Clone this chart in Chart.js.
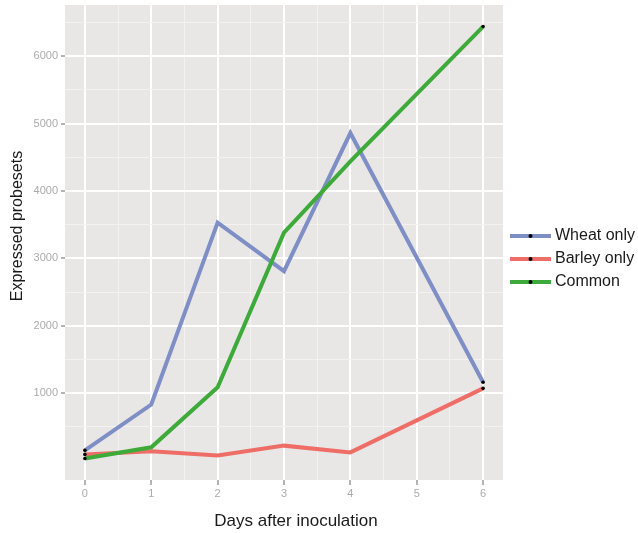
<!DOCTYPE html>
<html>
<head>
<meta charset="utf-8">
<script src="https://cdn.jsdelivr.net/npm/chart.js@4/dist/chart.umd.min.js"></script>
<style>
html,body{margin:0;padding:0;background:#fff;}
#wrap{width:638px;height:533px;}
</style>
</head>
<body>
<div id="wrap"><canvas id="c" width="638" height="533"></canvas></div>
<script>
const days = [0, 1, 2, 3, 4, 6];
const wheatOnly = [150, 830, 3530, 2810, 4860, 1160];
const barleyOnly = [90, 135, 75, 220, 120, 1070];
const common = [30, 195, 1085, 3380, 4440, 6440];
const seriesNames = ['Wheat only', 'Barley only', 'Common'];
const xMajorTicks = [0, 1, 2, 3, 4, 5, 6];
const xMinorTicks = [0.5, 1.5, 2.5, 3.5, 4.5, 5.5];
const yMajorTicks = [1000, 2000, 3000, 4000, 5000, 6000];
const yMinorTicks = [500, 1500, 2500, 3500, 4500, 5500, 6500];
const xTitle = 'Days after inoculation';
const yTitle = 'Expressed probesets';

const colors = ['#7F8FC6', '#EE6E67', '#3DAA3A'];
const FONT = '"Liberation Sans", Arial, sans-serif';

function pts(vals){ return days.map((d,i)=>({x:d, y:vals[i]})); }

const majorSetX = new Set(xMajorTicks), majorSetY = new Set(yMajorTicks);

function mkDataset(label, vals, color, order){
  return {
    label, data: pts(vals), borderColor: color, backgroundColor: color,
    borderWidth: 4, order,
    pointRadius: c => (c.dataIndex === 0 || c.dataIndex === vals.length-1) ? 1.8 : 0,
    pointBackgroundColor: '#000', pointBorderColor: '#000', pointBorderWidth: 0,
    pointHoverRadius: 0, tension: 0, fill: false
  };
}

const panelBg = {
  id: 'panelBg',
  beforeDraw(chart){
    const a = chart.chartArea, ctx = chart.ctx;
    ctx.save();
    ctx.fillStyle = '#E8E7E5';
    ctx.fillRect(a.left, a.top, a.right-a.left, a.bottom-a.top);
    ctx.restore();
  }
};

const extras = {
  id: 'extras',
  afterDraw(chart){
    const ctx = chart.ctx;
    ctx.save();
    ctx.fillStyle = '#1a1a1a';
    ctx.textAlign = 'center';
    ctx.textBaseline = 'middle';
    ctx.font = '17px ' + FONT;
    ctx.fillText(xTitle, 296, 521);
    ctx.save();
    ctx.translate(18, 226);
    ctx.rotate(-Math.PI/2);
    ctx.font = '16px ' + FONT;
    ctx.fillText(yTitle, 0, 0);
    ctx.restore();
    const ys = [236, 259, 282];
    seriesNames.forEach((name, i) => {
      const y = ys[i];
      ctx.strokeStyle = colors[i];
      ctx.lineWidth = 4;
      ctx.lineCap = 'butt';
      ctx.beginPath(); ctx.moveTo(510, y); ctx.lineTo(551, y); ctx.stroke();
      ctx.fillStyle = '#000';
      ctx.beginPath(); ctx.arc(530.5, y, 2, 0, Math.PI*2); ctx.fill();
      ctx.fillStyle = '#1a1a1a';
      ctx.font = '16px ' + FONT;
      ctx.textAlign = 'left';
      ctx.fillText(name, 555, y);
    });
    ctx.restore();
  }
};

new Chart(document.getElementById('c'), {
  type: 'line',
  data: {
    datasets: [
      mkDataset(seriesNames[0], wheatOnly, colors[0], 2),
      mkDataset(seriesNames[1], barleyOnly, colors[1], 1),
      mkDataset(seriesNames[2], common, colors[2], 0)
    ]
  },
  options: {
    responsive: false,
    animation: false,
    events: [],
    layout: { padding: { top: 5, right: 135, left: 0, bottom: 0 } },
    plugins: { legend: { display: false }, tooltip: { enabled: false }, title: { display: false } },
    scales: {
      x: {
        type: 'linear', min: -0.3, max: 6.3,
        afterBuildTicks: s => { s.ticks = xMajorTicks.concat(xMinorTicks).sort((a,b)=>a-b).map(v=>({value:v})); },
        afterFit: s => { s.height = 53; s.paddingLeft = 0; s.paddingRight = 0; },
        border: { display: false },
        grid: {
          color: c => majorSetX.has(c.tick && c.tick.value) ? '#FFFFFF' : '#F3F2F1',
          lineWidth: c => majorSetX.has(c.tick && c.tick.value) ? 2 : 1,
          tickColor: c => majorSetX.has(c.tick && c.tick.value) ? '#9A9A9A' : 'rgba(0,0,0,0)',
          tickWidth: 1.5,
          tickLength: 5, drawTicks: true
        },
        ticks: {
          autoSkip: false, maxRotation: 0, padding: 2,
          color: '#ABABAB', font: { size: 11, family: FONT },
          callback: v => majorSetX.has(v) ? String(v) : ''
        }
      },
      y: {
        type: 'linear', min: -290, max: 6760,
        afterBuildTicks: s => { s.ticks = yMajorTicks.concat(yMinorTicks).sort((a,b)=>a-b).map(v=>({value:v})); },
        afterFit: s => { s.width = 65; s.paddingTop = 0; s.paddingBottom = 0; },
        border: { display: false },
        grid: {
          color: c => majorSetY.has(c.tick && c.tick.value) ? '#FFFFFF' : '#F3F2F1',
          lineWidth: c => majorSetY.has(c.tick && c.tick.value) ? 2 : 1,
          tickColor: c => majorSetY.has(c.tick && c.tick.value) ? '#9A9A9A' : 'rgba(0,0,0,0)',
          tickWidth: 1.5,
          tickLength: 4, drawTicks: true
        },
        ticks: {
          autoSkip: false, padding: 3,
          color: '#ABABAB', font: { size: 11, family: FONT },
          callback: v => majorSetY.has(v) ? String(v) : ''
        }
      }
    }
  },
  plugins: [panelBg, extras]
});
</script>
</body>
</html>
